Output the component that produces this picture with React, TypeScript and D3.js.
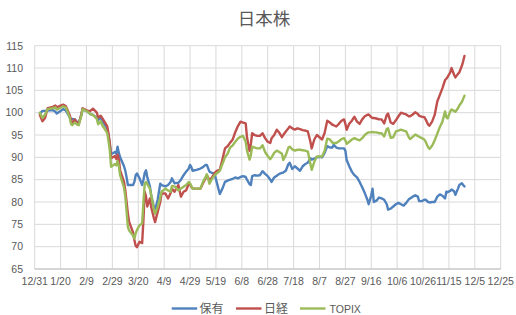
import React from "react";
import * as d3 from "d3";

const dates = [
  "1/4","1/6","1/8","1/10","1/14","1/16","1/17","1/20","1/22","1/24","1/27","1/28","1/29","1/31",
  "2/2","2/3","2/5","2/6","2/10","2/12","2/14","2/17","2/18","2/20","2/21","2/25","2/26","2/27","2/28",
  "3/2","3/3","3/4","3/5","3/6","3/9","3/10","3/11","3/12","3/13","3/16","3/17","3/18","3/19","3/21",
  "3/23","3/24","3/25","3/26","3/27","3/29","3/30","4/1","4/2","4/4","4/6","4/7","4/10","4/12","4/14",
  "4/15","4/17","4/20","4/22","4/24","4/26","4/28","4/29","4/30","5/1","5/4","5/7","5/9","5/11","5/12",
  "5/14","5/16","5/18","5/20","5/22","5/24","5/26","5/28","5/30","6/1","6/3","6/5","6/7","6/9","6/11",
  "6/12","6/14","6/15","6/16","6/18","6/20","6/22","6/24","6/26","6/28","6/30","7/1","7/3","7/5","7/7",
  "7/9","7/10","7/12","7/14","7/15","7/17","7/19","7/21","7/23","7/25","7/27","7/29","7/31","8/1","8/3",
  "8/5","8/7","8/9","8/11","8/13","8/15","8/17","8/18","8/20","8/22","8/24","8/26","8/27","8/28","8/30",
  "9/1","9/3","9/5","9/7","9/9","9/11","9/13","9/14","9/16","9/17","9/18","9/20","9/22","9/24","9/26",
  "9/28","9/29","10/1","10/3","10/5","10/7","10/9","10/11","10/13","10/15","10/16","10/18","10/20","10/22",
  "10/23","10/25","10/27","10/28","10/30","10/31","11/2","11/4","11/6","11/8","11/10","11/12","11/13",
  "11/14","11/16","11/17","11/19","11/20","11/22","11/23","11/25","11/26","11/27"
];

const holdings = [
  99.8,100.4,100.4,100.5,100.6,100.2,99.8,100.4,100.8,100.5,99,98.3,98.6,98.5,
  97.8,97.6,99.5,100.8,100.2,99.7,99.5,98.8,98.3,99,98.3,96.5,95,93,90.7,
  91.2,90.8,92.4,91,90,88,87,85.5,83.8,83.8,83.8,84.5,86,86.4,85.3,
  83.8,85,86.5,87.1,85.5,83.5,81.5,79,78.2,80.5,84.1,83.8,83.5,83.8,84.5,
  85.3,84.2,84.3,85,86,86.8,87.5,88.3,87.8,87,87.2,87.5,87.8,88.3,88.3,
  86.8,86.5,86.3,84,81.8,83,84.5,84.8,85,85.2,85.5,85.3,85.6,85.8,85.6,
  85,84,83.8,85.8,86,85.9,86,86.9,86.3,85.8,85,84.5,85.5,85.9,86.3,
  86.5,86.6,87,88.5,88.8,87.4,88,87.5,87,88,88.5,88.8,89.8,89.5,89.7,
  90,90.1,90,91,92.5,92.2,92.2,92.8,92.2,92,92,92,91.5,89.4,88,
  86.8,86,85.5,84.5,83.3,82,80.5,79.5,81.5,83,80,80.3,81,80.8,80.5,
  79.5,78.3,78.5,79,79.5,79.8,79.5,79.2,79.8,80.6,80.8,81.2,81.5,81.2,
  80.2,80.2,80.5,80.5,80,79.9,80,80,81.2,81.7,81.4,80.8,82.3,
  82.2,82.5,82.8,82.4,81.6,83,83.8,84.2,83.8,83.5
];

const nikkei = [
  99.5,98.1,98.8,101,101.3,101.6,101.2,101.6,101.8,101.5,99.5,98.5,97.4,98.5,
  97.6,97.4,99.6,101,100.4,100.4,100.9,100,98.9,99.3,98.9,97,95.3,93.2,89.8,
  90.3,89.6,90.6,89.5,87.1,84.5,82.6,80,77.4,75.5,73.2,71.5,70.2,69.9,71.1,
  70.8,76,82.3,81.2,79,80.8,78.9,76.5,75.5,77.8,80,81.9,81.9,80.8,82,
  83,82.3,83.8,81.2,82.3,82.6,84.1,84,83.4,83,83,83,84.2,85.3,86,
  84.9,85.5,86.5,87,87.2,89.5,92,92.5,93.3,94,95.7,97,98,97.8,97.6,
  94.5,91.4,93,95.4,95,94.8,94.8,95.4,94.3,93.5,93.2,94.3,95,96.2,95.5,
  94.5,95,95.8,96.5,96.9,96.5,96.2,96.5,96.3,96.1,96,95.8,93.5,92,94,
  95,94.5,94,95.5,98.2,97.8,97.3,97.2,96.9,97.5,98.2,98.5,97.5,96.2,97.5,
  98.2,99.1,98,97.5,98.5,99.2,99.5,99.6,99,98.8,98.8,98.7,98.5,98.5,97.6,
  99.5,99.8,97.8,97.5,98.3,99.2,100,99.8,99.6,99.2,99.2,99.6,100.1,99.7,
  99.3,99.1,99,98.5,97.3,97.1,98,99.5,102.5,104,105.5,107.3,107.6,
  108,109,110,108.5,107.9,108.7,109,110.5,111.5,112.7
];

const topix = [
  100,98.8,99.6,100.8,101,101.2,100.7,101.1,101.4,101.2,99,97.5,97.2,97.8,
  97.3,97.2,99.3,100.8,100.2,99.7,99.5,98.6,97.4,98.1,97.3,95.5,93.7,91.6,87.9,
  88.5,88.2,89.2,88,86,83.2,81.2,77.8,74.4,73.6,72.5,71.8,73,73.7,74.8,
  75.2,80,84.1,84.5,84,83,81.5,78.5,77.4,78.9,81,82.3,83,82.6,82.3,
  83.6,83.5,82.6,83,83.4,83.8,84.5,84.2,83.6,83,83,83,84.5,85.6,86.2,
  84.1,85.2,86,86.5,87,88.5,90,90.8,92.2,92.7,93.5,94.2,94.6,94.8,93.5,
  91.5,89.5,90.5,92.4,92.2,92,92,92.7,91.2,90.3,89.6,90,91,91.5,91.2,
  90.8,89.4,90.5,92.2,92.4,91.8,91.5,91.7,91.7,91.6,91.5,91.3,88.5,87.2,89,
  90.2,90.2,90.2,91.5,94.2,94,93.3,93.2,93.2,93.6,94.1,94.3,93.8,93,93.5,
  94,94.3,94,93.8,94.3,95,95.5,95.6,95.6,95.7,95.6,95.6,95.4,95.4,94.7,
  96.4,96.5,94.4,94.5,95.8,96,96.2,96,95.8,94.5,94.1,94.6,95.1,94.8,
  94.6,94.3,94,93.5,92.2,91.9,92.6,93.8,95.3,96.8,98,100.3,99,
  98.7,100.3,100.7,100.4,100.2,101,101.6,102.4,103.1,103.8
];

const seriesNames = ["保有", "日経", "TOPIX"];
const seriesColors = ["#4F81BD", "#C0504D", "#9BBB59"];
const yTicks = [65, 70, 75, 80, 85, 90, 95, 100, 105, 110, 115];
const xTickLabels = ["12/31","1/20","2/9","2/29","3/20","4/9","4/29","5/19","6/8","6/28","7/18","8/7","8/27","9/16","10/6","10/26","11/15","12/5","12/25"];

function parseMD(s: string, year = 2020) {
  const [m, d] = s.split("/").map(Number);
  return new Date(Date.UTC(year, m - 1, d));
}

export default function App() {
  const W = 516, H = 315;
  const left = 34.7, right = 500.7, top = 45.7, bottom = 269;
  const x = d3.scaleUtc()
    .domain([parseMD("12/31", 2019), parseMD("12/25", 2020)])
    .range([left, right]);
  const y = d3.scaleLinear().domain([65, 115]).range([bottom, top]);
  const xTicks = xTickLabels.map((l, i) => ({ label: l, date: parseMD(l, i === 0 ? 2019 : 2020) }));
  const parsed = dates.map((d) => parseMD(d));
  const allSeries = [holdings, nikkei, topix];
  const line = d3.line<number>()
    .x((_, i) => x(parsed[i]))
    .y((v) => y(v));

  const font = "'Liberation Sans', Arial, sans-serif";
  const cjk = "'Noto Sans CJK JP', sans-serif";
  const legendItems = [
    { lx: 171.7, tx: 199.5 },
    { lx: 236, tx: 264 },
    { lx: 300, tx: 329.5 },
  ];

  return (
    <svg width={W} height={H} style={{ position: "absolute", left: 0, top: 0, background: "#fff" }}>
      <rect x={0} y={0} width={W} height={H} fill="#fff" />
      <text x={264} y={24.5} textAnchor="middle" fontFamily={cjk} fontSize={17.5} fill="#595959">日本株</text>
      {yTicks.map((t) => (
        <g key={t}>
          <line x1={left} x2={right} y1={y(t)} y2={y(t)} stroke="#D9D9D9" strokeWidth={1} />
          <text x={23} y={y(t) + 3.8} textAnchor="end" fontFamily={font} fontSize={10.5} fill="#595959">{t}</text>
        </g>
      ))}
      {xTicks.map((t) => (
        <g key={t.label}>
          <line x1={x(t.date)} x2={x(t.date)} y1={top} y2={bottom} stroke="#D9D9D9" strokeWidth={1} />
          <text x={x(t.date)} y={285} textAnchor="middle" fontFamily={font} fontSize={10.5} fill="#595959">{t.label}</text>
        </g>
      ))}
      <line x1={left} x2={right} y1={bottom} y2={bottom} stroke="#BFBFBF" strokeWidth={1} />
      {allSeries.map((s, i) => (
        <path key={i} d={line(s) || ""} fill="none" stroke={seriesColors[i]} strokeWidth={2.4} strokeLinejoin="round" strokeLinecap="round" />
      ))}
      {legendItems.map((it, i) => (
        <g key={i}>
          <line x1={it.lx} x2={it.lx + 25.5} y1={308.5} y2={308.5} stroke={seriesColors[i]} strokeWidth={2.4} />
          <text x={it.tx} y={312.5} fontFamily={i === 2 ? font : cjk} fontSize={i === 2 ? 10.5 : 12} fill="#595959">{seriesNames[i]}</text>
        </g>
      ))}
    </svg>
  );
}
